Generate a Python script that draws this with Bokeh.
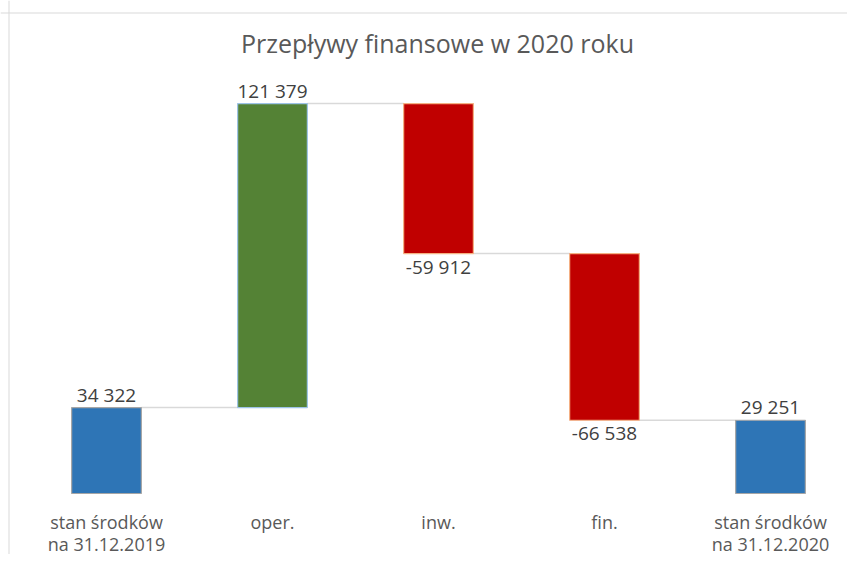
import numpy as np
from bokeh.plotting import figure
from bokeh.models import ColumnDataSource, Range1d, Span, Label
from bokeh.core.properties import value
from bokeh.embed import file_html
from bokeh.resources import INLINE

# ---------------- data ----------------
title_text = "Przepływy finansowe w 2020 roku"
categories = ["stan środków\nna 31.12.2019", "oper.", "inw.", "fin.", "stan środków\nna 31.12.2020"]
amounts = [34322, 121379, -59912, -66538, 29251]
is_total = [True, False, False, False, True]
fill_colors = ["#2E75B6", "#548235", "#C00000", "#C00000", "#2E75B6"]
edge_colors = ["#A6A6A6", "#9DC3E6", "#F4B183", "#F4B183", "#A6A6A6"]

# ---------------- waterfall geometry ----------------
bottoms, tops, ends = [], [], []
running = 0
for a, t in zip(amounts, is_total):
    if t:
        start, running = 0, a
    else:
        start = running
        running = running + a
    bottoms.append(min(start, running))
    tops.append(max(start, running))
    ends.append(running)

xs = list(range(len(categories)))
BAR_W = 0.42
FONT = "Open Sans"

def fmt(v):
    return f"{v:,}".replace(",", " ")

labels = [fmt(a) for a in amounts]
label_y = [tp if a >= 0 else b for a, b, tp in zip(amounts, bottoms, tops)]
label_off = [-13 if a >= 0 else 13 for a in amounts]

src = ColumnDataSource(dict(
    x=xs, bottom=bottoms, top=tops, fill=fill_colors, edge=edge_colors,
    label=labels, ly=label_y, loff=label_off,
    cat1=[c.split("\n")[0] for c in categories],
    cat2=[c.split("\n")[1] if "\n" in c else "" for c in categories],
    zero=[0] * len(categories),
))

conn = ColumnDataSource(dict(
    x0=[x + BAR_W / 2 for x in xs[:-1]],
    x1=[x - BAR_W / 2 for x in xs[1:]],
    y=ends[:-1],
))

W, H = 847, 554
px_per_x = 166.0
px_per_y = 304.0 / 121379
x_start = -106.0 / px_per_x
x_end = x_start + W / px_per_x
y_start = -(H - 493.0) / px_per_y
y_end = y_start + H / px_per_y

p = figure(width=W, height=H, output_backend="svg", toolbar_location=None,
           x_range=Range1d(x_start, x_end), y_range=Range1d(y_start, y_end),
           x_axis_location=None, y_axis_location=None,
           min_border=0, min_border_left=0, min_border_right=0,
           min_border_top=0, min_border_bottom=0)
p.grid.visible = False
p.outline_line_color = None
p.background_fill_color = "white"
p.border_fill_color = "white"

# chart border (top and left visible in crop)
p.add_layout(Span(location=x_start + 8.5 / px_per_x, dimension="height",
                  line_color="#D9D9D9", line_width=1))
p.add_layout(Span(location=y_end - 12.5 / px_per_y, dimension="width",
                  line_color="#D9D9D9", line_width=1))

# connectors
p.segment(x0="x0", y0="y", x1="x1", y1="y", source=conn,
          line_color="#D9D9D9", line_width=1.5)

# bars
p.vbar(x="x", bottom="bottom", top="top", width=BAR_W, source=src,
       fill_color="fill", line_color="edge", line_width=1.2)

# data labels
p.text(x="x", y="ly", text="label", y_offset="loff", source=src,
       text_font=value(FONT), text_font_size="19px", text_color="#404040",
       text_align="center", text_baseline="middle")

# category labels
p.text(x="x", y="zero", text="cat1", y_offset=28, source=src,
       text_font=value(FONT), text_font_size="18px", text_color="#595959",
       text_align="center", text_baseline="middle")
p.text(x="x", y="zero", text="cat2", y_offset=50, source=src,
       text_font=value(FONT), text_font_size="18px", text_color="#595959",
       text_align="center", text_baseline="middle")

# title
p.add_layout(Label(x=437, y=H - 42, x_units="screen", y_units="screen",
                   text=title_text, text_font=FONT, text_font_size="25px",
                   text_color="#595959", text_align="center", text_baseline="middle"))

open("out.html", "w").write(file_html(p, INLINE))
